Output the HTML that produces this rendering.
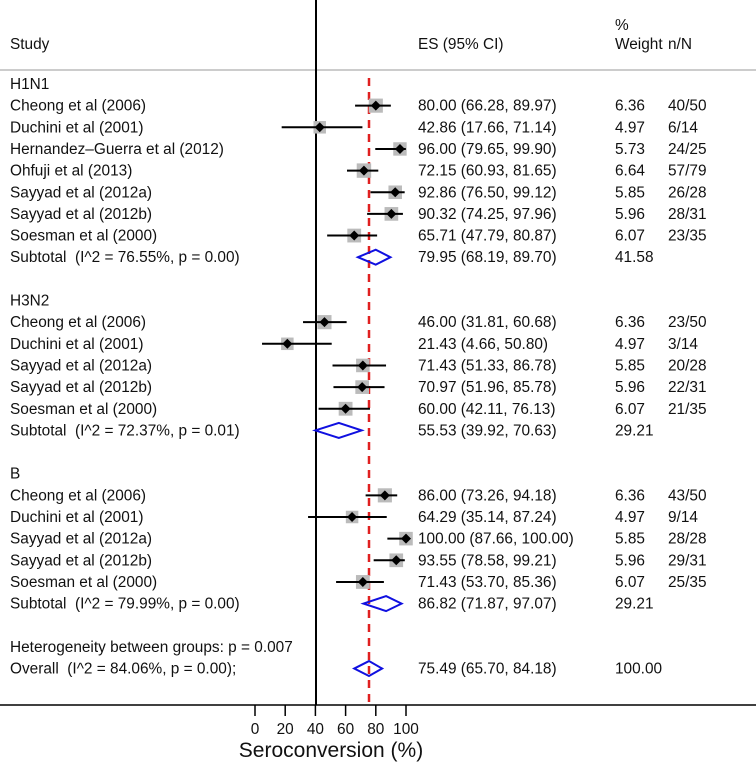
<!DOCTYPE html>
<html><head><meta charset="utf-8"><style>
html,body{margin:0;padding:0;background:#fff;}
svg text{font-family:"Liberation Sans",sans-serif;font-size:15.4px;fill:#111;white-space:pre;}
</style></head><body>
<svg id="plot" width="756" height="766" viewBox="0 0 756 766" xmlns="http://www.w3.org/2000/svg">
<line x1="0" y1="70" x2="756" y2="70" stroke="#ccc" stroke-width="2"/>
<text x="10" y="49">Study</text>
<text x="418" y="49">ES (95% CI)</text>
<text x="615" y="30">%</text>
<text x="615" y="49">Weight</text>
<text x="668" y="49">n/N</text>
<line x1="316" y1="0" x2="316" y2="705" stroke="#000" stroke-width="2"/>
<line x1="369" y1="78" x2="369" y2="705" stroke="#e02020" stroke-width="2.5" stroke-dasharray="8,6"/>
<line x1="0" y1="705" x2="756" y2="705" stroke="#000" stroke-width="1.5"/>
<text x="331" y="757" text-anchor="middle" style="font-size:21px">Seroconversion (%)</text>
<g id="rows"></g>
</svg>
<script>
const ticks=[0,20,40,60,80,100];
const labels=["H1N1","Cheong et al (2006)","Duchini et al (2001)","Hernandez–Guerra et al (2012)","Ohfuji et al (2013)","Sayyad et al (2012a)","Sayyad et al (2012b)","Soesman et al (2000)","Subtotal  (I^2 = 76.55%, p = 0.00)","","H3N2","Cheong et al (2006)","Duchini et al (2001)","Sayyad et al (2012a)","Sayyad et al (2012b)","Soesman et al (2000)","Subtotal  (I^2 = 72.37%, p = 0.01)","","B","Cheong et al (2006)","Duchini et al (2001)","Sayyad et al (2012a)","Sayyad et al (2012b)","Soesman et al (2000)","Subtotal  (I^2 = 79.99%, p = 0.00)","","Heterogeneity between groups: p = 0.007","Overall  (I^2 = 84.06%, p = 0.00);"];
const kinds=["h","s","s","s","s","s","s","s","d","","h","s","s","s","s","s","d","","h","s","s","s","s","s","d","","h","d"];
const es=[null,80.00,42.86,96.00,72.15,92.86,90.32,65.71,79.95,null,null,46.00,21.43,71.43,70.97,60.00,55.53,null,null,86.00,64.29,100.00,93.55,71.43,86.82,null,null,75.49];
const lo=[null,66.28,17.66,79.65,60.93,76.50,74.25,47.79,68.19,null,null,31.81,4.66,51.33,51.96,42.11,39.92,null,null,73.26,35.14,87.66,78.58,53.70,71.87,null,null,65.70];
const hi=[null,89.97,71.14,99.90,81.65,99.12,97.96,80.87,89.70,null,null,60.68,50.80,86.78,85.78,76.13,70.63,null,null,94.18,87.24,100.00,99.21,85.36,97.07,null,null,84.18];
const weights=[null,6.36,4.97,5.73,6.64,5.85,5.96,6.07,41.58,null,null,6.36,4.97,5.85,5.96,6.07,29.21,null,null,6.36,4.97,5.85,5.96,6.07,29.21,null,null,100.00];
const nn=["","40/50","6/14","24/25","57/79","26/28","28/31","23/35","","","","23/50","3/14","20/28","22/31","21/35","","","","43/50","9/14","28/28","29/31","25/35","","","",""];
const NS="http://www.w3.org/2000/svg";
const svg=document.getElementById('plot');
const g=document.getElementById('rows');
const xs=v=>255+v*1.51;
const ys=i=>84+i*21.65;
function mk(tag,attrs,parent){const e=document.createElementNS(NS,tag);for(const k in attrs)e.setAttribute(k,attrs[k]);(parent||g).appendChild(e);return e;}
const f2=v=>v.toFixed(2);
ticks.forEach(t=>{
  const l=mk('line',{x1:xs(t),y1:705,x2:xs(t),y2:716,stroke:'#000','stroke-width':1.5},svg);
  
  
  const tx=mk('text',{x:xs(t),y:734,'text-anchor':'middle'},svg);
  tx.textContent=t;
  
  
});
labels.forEach((lab,i)=>{
  const y=ys(i);
  if(lab){
    const t=mk('text',{x:10,y:y+5});t.textContent=lab;
    
    
  }
  if(es[i]==null)return;
  if(kinds[i]==='s'){
    const s=Math.sqrt(weights[i])*5.6;
    const r=mk('rect',{x:xs(es[i])-s/2,y:y-s/2,width:s,height:s,fill:'#bbb'});
    
    
    const l=mk('line',{x1:xs(lo[i]),y1:y,x2:xs(hi[i]),y2:y,stroke:'#000','stroke-width':2});
    
    
    const d=mk('polygon',{points:`${xs(es[i])-5},${y} ${xs(es[i])},${y-5} ${xs(es[i])+5},${y} ${xs(es[i])},${y+5}`,fill:'#000'});
    
    
  } else {
    const d=mk('polygon',{points:`${xs(lo[i])},${y} ${xs(es[i])},${y-7.5} ${xs(hi[i])},${y} ${xs(es[i])},${y+7.5}`,fill:'none',stroke:'#1010e0','stroke-width':2});
    
    
  }
  const e=mk('text',{x:418,y:y+5});e.textContent=`${f2(es[i])} (${f2(lo[i])}, ${f2(hi[i])})`;
  
  
  const w=mk('text',{x:615,y:y+5});w.textContent=f2(weights[i]);
  
  
  if(nn[i]){const n=mk('text',{x:668,y:y+5});n.textContent=nn[i];
    
    }
});
</script>
</body></html>
